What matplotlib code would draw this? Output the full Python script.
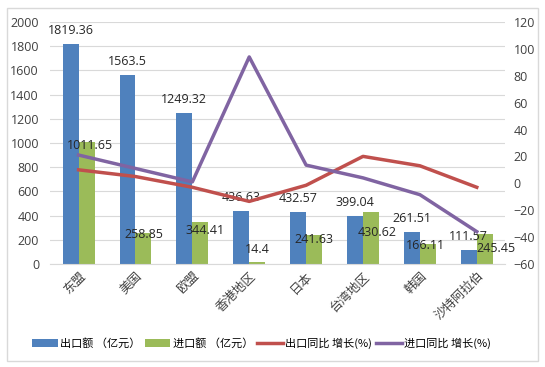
import matplotlib.pyplot as plt
import numpy as np
from matplotlib.patches import Rectangle

plt.rcParams['font.family'] = ['Open Sans', 'Noto Sans CJK SC', 'DejaVu Sans']

regions = ['东盟', '美国', '欧盟', '香港地区', '日本', '台湾地区', '韩国', '沙特阿拉伯']
export_amt = [1819.36, 1563.5, 1249.32, 436.63, 432.57, 399.04, 261.51, 111.57]
import_amt = [1011.65, 258.85, 344.41, 14.4, 241.63, 430.62, 166.11, 245.45]
export_yoy = [10, 5, -3, -13.5, -1.5, 20, 13, -3]
import_yoy = [21, 11, 1, 94, 13.5, 4, -8.5, -36]

blue = '#4F81BD'
green = '#9BBB59'
red = '#C0504D'
purple = '#8064A2'
txt = '#404040'

# manual nudges (pixels) of the import labels, as in the source chart
imp_dx = [3, 0, 5, 0, 0, 6, -2, 11]
imp_dy = [-4, -2, -8, 13, -5, -21, -2, -14]

fig = plt.figure(figsize=(5.45, 3.67), dpi=100)
fig.patches.append(Rectangle((7/545, 6/367), 531/545, 353/367, transform=fig.transFigure,
                             fill=False, edgecolor='#D9D9D9', linewidth=1))

ax = fig.add_axes([0.092, 0.281, 0.835, 0.659])
x = np.arange(len(regions))
w = 0.28
ax.bar(x - w/2, export_amt, w, color=blue, label='出口额 （亿元）', zorder=2)
ax.bar(x + w/2, import_amt, w, color=green, label='进口额 （亿元）', zorder=2)
ax.set_ylim(0, 2000)
ax.set_xlim(-0.5, len(regions) - 0.5)
ax.set_yticks(range(0, 2001, 200))
ax.grid(axis='y', color='#D9D9D9', linewidth=0.8, zorder=0)
ax.set_axisbelow(True)
for s in ['top', 'right', 'left']:
    ax.spines[s].set_visible(False)
ax.spines['bottom'].set_color('#D9D9D9')
ax.tick_params(axis='y', length=0, labelsize=9, labelcolor=txt, pad=8)
ax.tick_params(axis='x', length=0, pad=4)
ax.set_xticks(x)
ax.set_xticklabels(regions, rotation=45, ha='right', rotation_mode='anchor',
                   fontsize=9, color=txt, family=['Noto Sans CJK SC'])

for i, v in enumerate(export_amt):
    ax.annotate(f'{v:g}', (x[i] - w/2, v), xytext=(0, 5), textcoords='offset points',
                ha='center', va='bottom', fontsize=9, color='#262626', zorder=5)
for i, v in enumerate(import_amt):
    ax.annotate(f'{v:g}', (x[i] + w/2, v), xytext=(imp_dx[i], imp_dy[i]), textcoords='offset pixels',
                ha='center', va='center', fontsize=9, color='#262626', zorder=5)

ax2 = ax.twinx()
ax2.plot(x, export_yoy, color=red, linewidth=2.5, label='出口同比 增长(%)', zorder=3)
ax2.plot(x, import_yoy, color=purple, linewidth=2.5, label='进口同比 增长(%)', zorder=3)
ax2.set_ylim(-60, 120)
ax2.set_yticks(range(-60, 121, 20))
for s in ['top', 'right', 'left', 'bottom']:
    ax2.spines[s].set_visible(False)
ax2.tick_params(axis='y', length=0, labelsize=9, labelcolor=txt, pad=6)

h1, l1 = ax.get_legend_handles_labels()
h2, l2 = ax2.get_legend_handles_labels()
fig.legend(h1 + h2, l1 + l2, loc='center', bbox_to_anchor=(0.48, 0.065), ncol=4,
           frameon=False, handlelength=2.3, handletextpad=0.2, columnspacing=0.4,
           prop={'family': ['Noto Sans CJK SC'], 'size': 8})

fig.savefig('out.png', dpi=100)
